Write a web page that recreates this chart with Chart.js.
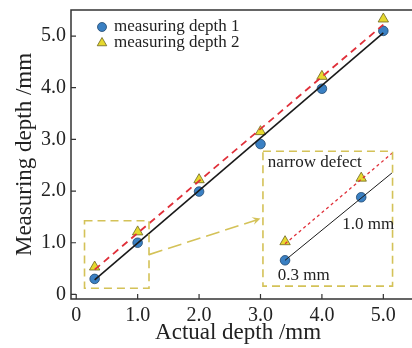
<!DOCTYPE html>
<html>
<head>
<meta charset="utf-8">
<script src="https://cdn.jsdelivr.net/npm/chart.js@4/dist/chart.umd.min.js"></script>
<style>
html,body{margin:0;padding:0;background:#fff;}
#wrap{width:412px;height:348px;}
</style>
</head>
<body>
<div id="wrap"><canvas id="c" width="412" height="348"></canvas></div>
<script>
// ---- data ----
const actualDepth = [0.3, 1.0, 2.0, 3.0, 4.0, 5.0];
const depth1 = [0.30, 1.00, 1.99, 2.91, 3.98, 5.10];
const depth2 = [0.53, 1.21, 2.22, 3.15, 4.22, 5.33];
const fitX = [0.3, 5.0];
const fit1 = [0.28, 5.06];
const fit2 = [0.48, 5.22];
// magnified inset (narrow defect), in main-axis coordinates
const insetX = [3.40, 4.64];
const inset1 = [0.66, 1.88];
const inset2 = [1.02, 2.25];
const insetFitX = [3.40, 5.14];
const insetFit1 = [0.66, 2.35];
const insetFit2 = [0.98, 2.73];
const xTicks = [0, 1, 2, 3, 4, 5];
const xTickLabels = ['0', '1.0', '2.0', '3.0', '4.0', '5.0'];
const yTicks = [0, 1, 2, 3, 4, 5];
const yTickLabels = ['0', '1.0', '2.0', '3.0', '4.0', '5.0'];
const seriesNames = ['measuring depth 1', 'measuring depth 2'];
const xTitle = 'Actual depth /mm';
const yTitle = 'Measuring depth /mm';

const pts = (xs, ys) => xs.map((x, i) => ({x: x, y: ys[i]}));

const SERIF = '"Liberation Serif", "DejaVu Serif", serif';
const BLUE = '#3a80c3', BLUE_B = '#21486e';
const YEL = '#e6d92e', YEL_B = '#6d6420';
const RED = '#e0303a';
const BOX = '#d4c258';
const AX = '#333333';

const decor = {
  id: 'decor',
  afterDatasetsDraw(chart) {
    const ctx = chart.ctx, xs = chart.scales.x, ys = chart.scales.y;
    const px = v => xs.getPixelForValue(v), py = v => ys.getPixelForValue(v);
    ctx.save();
    // dashed yellow boxes
    ctx.strokeStyle = BOX; ctx.lineWidth = 1.6; ctx.setLineDash([8, 5]);
    const box = (x0, y0, x1, y1) => { ctx.strokeRect(px(x0), py(y1), px(x1) - px(x0), py(y0) - py(y1)); };
    box(0.135, 0.12, 1.185, 1.425);
    box(3.04, 0.16, 5.15, 2.77);
    // arrow
    ctx.setLineDash([14, 6]);
    const ax0 = px(1.185), ay0 = py(0.77), ax1 = px(3.0), ay1 = py(1.47);
    ctx.beginPath(); ctx.moveTo(ax0, ay0); ctx.lineTo(ax1 - 4, ay1 + 1.5); ctx.stroke();
    ctx.setLineDash([]);
    const ang = Math.atan2(ay1 - ay0, ax1 - ax0);
    ctx.fillStyle = BOX;
    ctx.beginPath();
    ctx.moveTo(ax1, ay1);
    ctx.lineTo(ax1 - 9 * Math.cos(ang - 0.45), ay1 - 9 * Math.sin(ang - 0.45));
    ctx.lineTo(ax1 - 5 * Math.cos(ang), ay1 - 5 * Math.sin(ang));
    ctx.lineTo(ax1 - 9 * Math.cos(ang + 0.45), ay1 - 9 * Math.sin(ang + 0.45));
    ctx.closePath(); ctx.fill();
    // inset labels
    ctx.fillStyle = '#222';
    ctx.font = '17px ' + SERIF;
    ctx.textBaseline = 'middle'; ctx.textAlign = 'left';
    ctx.fillText('narrow defect', px(3.12), py(2.55));
    ctx.fillText('1.0 mm', px(4.33), py(1.35));
    ctx.fillText('0.3 mm', px(3.28), py(0.37));
    // legend
    const ca = chart.chartArea;
    const lx = ca.left + 31, l1 = ca.top + 17, l2 = ca.top + 33;
    ctx.beginPath(); ctx.arc(lx, l1, 4.5, 0, Math.PI * 2);
    ctx.fillStyle = BLUE; ctx.fill(); ctx.lineWidth = 0.8; ctx.strokeStyle = BLUE_B; ctx.stroke();
    const r = 5.5;
    ctx.beginPath();
    ctx.moveTo(lx, l2 - r);
    ctx.lineTo(lx + r * Math.sin(2 * Math.PI / 3), l2 - r * Math.cos(2 * Math.PI / 3));
    ctx.lineTo(lx + r * Math.sin(4 * Math.PI / 3), l2 - r * Math.cos(4 * Math.PI / 3));
    ctx.closePath();
    ctx.fillStyle = YEL; ctx.fill(); ctx.strokeStyle = YEL_B; ctx.stroke();
    ctx.fillStyle = '#222';
    ctx.fillText(seriesNames[0], lx + 12, l1);
    ctx.fillText(seriesNames[1], lx + 12, l2);
    ctx.restore();
  },
  afterDraw(chart) {
    const ctx = chart.ctx, ca = chart.chartArea, xs = chart.scales.x, ys = chart.scales.y;
    const W = chart.width;
    ctx.save();
    ctx.strokeStyle = AX; ctx.lineWidth = 1.5;
    ctx.beginPath();
    ctx.moveTo(W, ca.top); ctx.lineTo(ca.left, ca.top); ctx.lineTo(ca.left, ca.bottom); ctx.lineTo(W, ca.bottom);
    ctx.stroke();
    ctx.lineWidth = 1.2;
    ctx.beginPath();
    xs.ticks.forEach(t => { const x = xs.getPixelForValue(t.value); ctx.moveTo(x, ca.bottom); ctx.lineTo(x, ca.bottom - 5); });
    ys.ticks.forEach(t => { const y = ys.getPixelForValue(t.value); ctx.moveTo(ca.left, y); ctx.lineTo(ca.left + 5, y); });
    ctx.stroke();
    ctx.restore();
  }
};

const noPad = s => { s.paddingTop = 0; s.paddingBottom = 0; s.paddingLeft = 0; s.paddingRight = 0; };

new Chart(document.getElementById('c'), {
  type: 'scatter',
  data: {
    datasets: [
      {label: 'fit1', data: pts(fitX, fit1), showLine: true, borderColor: '#1a1a1a', borderWidth: 1.6, pointRadius: 0, order: 0},
      {label: 'fit2', data: pts(fitX, fit2), showLine: true, borderColor: RED, borderWidth: 1.8, borderDash: [7, 5], pointRadius: 0, order: 0},
      {label: 'ifit1', data: pts(insetFitX, insetFit1), showLine: true, borderColor: '#1a1a1a', borderWidth: 1, pointRadius: 0, order: 0},
      {label: 'ifit2', data: pts(insetFitX, insetFit2), showLine: true, borderColor: RED, borderWidth: 1.3, borderDash: [3, 3], pointRadius: 0, order: 0},
      {label: seriesNames[0], data: pts(actualDepth, depth1), pointStyle: 'circle', pointRadius: 4.8, backgroundColor: BLUE, borderColor: BLUE_B, borderWidth: 0.8, order: 1},
      {label: seriesNames[1], data: pts(actualDepth, depth2), pointStyle: 'triangle', pointRadius: 6, backgroundColor: YEL, borderColor: YEL_B, borderWidth: 0.8, order: 2},
      {label: 'i1', data: pts(insetX, inset1), pointStyle: 'circle', pointRadius: 4.8, backgroundColor: BLUE, borderColor: BLUE_B, borderWidth: 0.8, order: 1},
      {label: 'i2', data: pts(insetX, inset2), pointStyle: 'triangle', pointRadius: 6, backgroundColor: YEL, borderColor: YEL_B, borderWidth: 0.8, order: 2}
    ]
  },
  options: {
    responsive: true, maintainAspectRatio: false, animation: false,
    layout: {padding: {top: 10, right: 1, left: 0, bottom: 0}},
    plugins: {legend: {display: false}, tooltip: {enabled: false}},
    scales: {
      x: {
        type: 'linear', min: -0.085, max: 5.356,
        afterBuildTicks: a => { a.ticks = xTicks.map(v => ({value: v})); },
        afterFit: s => { s.height = 49; noPad(s); },
        ticks: {callback: (v, i) => xTickLabels[i], font: {family: SERIF, size: 20}, color: '#222', padding: 5, maxRotation: 0, autoSkip: false},
        grid: {display: false, drawTicks: false},
        border: {display: false},
        title: {display: true, text: xTitle, font: {family: SERIF, size: 23}, color: '#222', padding: {top: 0, bottom: 1}}
      },
      y: {
        type: 'linear', min: -0.089, max: 5.504,
        afterBuildTicks: a => { a.ticks = yTicks.map(v => ({value: v})); },
        afterFit: s => { s.width = 71; noPad(s); },
        ticks: {callback: (v, i) => yTickLabels[i], font: {family: SERIF, size: 20}, color: '#222', padding: 5, autoSkip: false},
        grid: {display: false, drawTicks: false},
        border: {display: false},
        title: {display: true, text: yTitle, font: {family: SERIF, size: 23}, color: '#222', padding: {top: 11, bottom: 0}}
      }
    }
  },
  plugins: [decor]
});
</script>
</body>
</html>
